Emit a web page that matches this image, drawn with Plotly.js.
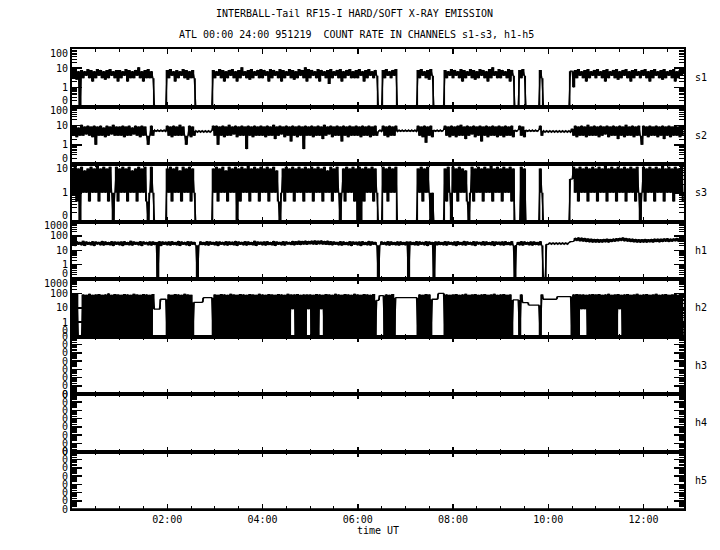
<!DOCTYPE html>
<html><head><meta charset="utf-8">
<script src="https://cdn.plot.ly/plotly-3.0.1.min.js"></script>
<style>html,body{margin:0;padding:0;background:#fff;}#chart{width:720px;height:550px;}</style>
</head><body><div id="chart"></div>
<script>
// ---- data (count rates, one sample every 2 minutes starting 00:00 UT) ----
const channels = ["s1","s2","s3","h1","h2","h3","h4","h5"];
const sampleStepMinutes = 2;

const s1 = [
8,3,9,2.5,7,0,8,3,7,4, 9,3,8,2,7,3,9,4,8,3, 7,2.5,8,3,9,4,7,3,8,2,
8,3,7,4,9,2,8,3,7,3, 8,4,11,3,7,2,8,3,9,3, 7,3,0,0,0,0,0,0,0,0,
8,3,9,4,7,2,8,3,7,4, 9,3,8,2.5,7,3,8,3,0,0, 0,0,0,0,0,0,0,0,0,8,
3,7,4,9,3,8,2,7,3,8, 4,9,3,7,2,8,3,11,4,7, 3,8,2.5,9,3,7,4,8,3,9,
3,8,4,7,2,9,3,8,4,7, 3,9,2,8,3,7,4,9,3,8, 2.5,7,3,9,4,8,3,11,2,9,
3,8,4,7,3,9,2,8,4,7, 3,8,1.5,9,3,7,4,8,3,9, 2,7,3,8,4,9,3,7,3,8,
3,9,4,7,2,8,3,9,4,7, 3,8,4,0,0,0,8,3,9,4, 7,3,8,4,9,0,0,0,0,0,
0,0,0,0,0,0,0,0,8,3, 9,4,7,3,8,2.5,9,4,0,0, 0,0,0,0,0,8,3,7,4,9,
3,8,4,7,3,9,2,8,3,7, 4,9,3,8,2.5,7,3,9,4,8, 3,7,2,9,3,11,4,7,3,9,
3,8,4,7,3,9,2,8,4,0, 0,0,8,3,9,4,0,0,0,0, 0,0,0,0,0,8,3,0,0,0,
0,0,0,0,0,0,0,0,0,0, 0,0,0,0,7,7,1,8,3,9, 4,7,3,8,2,9,3,7,4,8,
3,9,4,7,3,8,2,9,3,7, 4,8,3,9,2.5,7,3,8,4,9, 3,7,2,8,3,9,4,7,3,8,
4,9,3,7,2,8,3,9,4,7, 3,8,2.5,9,3,7,4,8,3,9, 2,7,3,8,4,9
];

const s2 = [
9,3,10,2.5,8,3,11,3,9,3.5, 10,3,9,2.5,10,1,9,3,10,3, 8,2.5,10,3,9,3.5,11,3,9,3,
9,3,10,2.5,9,3,10,3,8,3.5, 10,3,9,2.5,10,3,9,3,1,3, 10,3,6,5,6,5,6,5,6,5,
10,3,9,2.5,10,3,9,3,11,3, 9,3,1,3,10,2.5,9,3,5.5,4.5, 5.5,4.5,5.5,4.5,5.5,4.5,5.5,4.5,5.5,10,
3,10,1,9,3,10,2.5,9,3,11, 3,9,3.5,10,2.5,9,3,10,3,9, 0.6,10,3,9,2.5,10,3,9,3,10,
3,9,2.5,10,3,9,3,11,2,9, 3,10,3.5,9,2.5,10,3,9,1.5,10, 3,9,2.5,10,3,9,0.6,10,3,9,
3,10,2.5,9,3,10,3,9,2,11, 3,9,3.5,10,2.5,9,3,10,3,9, 1.5,10,3,9,2.5,10,3,9,3,10,
3,9,2.5,10,3,9,3,10,2.5,9, 3,10,3,5,6,5,10,3,9,2.5, 10,3,9,3,10,5,6,5,6,5,
6,5,6,5,6,5,6,5,10,3, 9,2.5,10,1.3,9,3,10,2.5,6,5, 6,5,6,5,6,10,3,9,2.5,10,
3,9,2.5,10,3,11,3,9,2,10, 3,9,3.5,10,2.5,9,3,10,1.5,9, 3,10,2.5,9,3,10,3,9,2.5,10,
3,9,2.5,10,3,9,3,10,2.5,6, 5,6,10,3,9,2.5,6,5,6,5, 6,5,6,5,6,10,3,5.5,4.5,5.5,
4.5,5.5,4.5,5.5,4.5,5.5,4.5,5.5,4.5,5.5, 4.5,5.5,4.5,5.5,4.5,7,3,10,2.5,9, 3,10,3,9,2.5,11,3,9,3,10,
3,9,2.5,10,3,9,3.5,10,2.5,9, 3,10,3,9,2,10,3,9,2.5,11, 3,9,3,10,2.5,9,3,10,3,1,
10,3,9,2.5,10,3,9,3,10,2.5, 9,3,10,2,9,3,10,2.5,9,3, 10,3,9,2.5,10,3
];

const s3 = [
7,1,8,0.5,7,0,8,1,6,1, 7,0.5,8,1,7,1,9,0.5,7,1, 8,1,7,0.5,8,1,0,1,8,0.5,
7,1,8,1,7,0.5,8,1,6,1, 7,0.5,8,1,7,1,8,0.5,0,1, 8,1,0,0,0,0,0,0,0,0,
7,1,8,0.5,7,1,8,1,6,0.5, 8,1,7,1,8,0.5,7,1,0,0, 0,0,0,0,0,0,0,0,0,7,
1,8,0.5,7,1,8,1,6,0.5,8, 1,7,1,8,0,7,0.5,8,1,7, 1,9,0.5,7,1,8,1,7,0.5,8,
1,7,1,8,0.5,7,1,8,1,6, 0.5,0,1,7,0.5,8,1,7,1,8, 0.5,7,1,8,1,7,0.5,8,1,7,
1,8,0.5,7,1,8,1,7,0.5,8, 1,6,1,8,0.5,7,1,8,1,0, 1,7,0.5,8,1,7,1,8,0.5,7,
0,8,0,7,0.5,8,1,7,1,8, 0.5,7,1,0,0,0,8,1,7,0.5, 8,1,7,1,8,0,0,0,0,0,
0,0,0,0,0,0,0,0,7,1, 8,0.5,7,1,8,1,0,1,0,0, 0,0,0,0,0,7,0.5,8,1,0,
8,1,7,0.5,8,1,7,1,6,0.5, 0,1,8,0.5,7,1,8,1,7,0.5, 8,1,7,1,9,0.5,7,1,8,1,
7,0.5,8,1,7,1,8,0.5,7,0, 0,0,0,8,0,7,0,0,0,0, 0,0,0,0,0,7,1,0,0,0,
0,0,0,0,0,0,0,0,0,0, 0,0,0,0,3,3,8,1,7,0.5, 8,1,7,1,8,0.5,7,1,8,1,
7,0.5,8,1,7,1,9,0.5,7,1, 8,1,7,0.5,8,1,7,1,8,0.5, 7,1,8,1,7,0.5,8,1,0,1,
8,0.5,7,1,8,1,7,0.5,8,1, 7,1,9,0.5,7,1,8,1,7,0.5, 8,1,7,1,8,0.5
];

const h1 = [
22,40,20,42,24,38,22,45,20,40, 24,38,22,42,20,40,25,38,22,44, 21,40,23,38,22,42,20,40,24,39,
22,40,20,42,23,38,22,45,21,40, 24,38,22,42,20,40,25,38,22,41, 21,40,23,38,0,42,20,40,24,39,
22,40,21,42,23,38,22,44,20,40, 24,38,22,42,20,40,24,38,22,0, 22,40,23,38,22,42,21,40,24,38,
22,41,20,40,24,38,22,42,21,40, 23,39,22,44,20,40,24,38,22,42, 21,40,23,38,22,45,20,40,24,39,
22,40,21,42,23,38,22,44,20,40, 24,38,22,42,21,40,25,38,23,44, 22,42,24,45,23,44,25,46,24,44,
26,46,25,48,24,45,26,47,25,44, 24,45,23,42,22,40,24,38,22,42, 21,40,23,38,22,42,20,40,24,39,
22,40,20,42,23,38,22,44,21,40, 24,38,22,0,22,40,24,38,22,42, 21,40,23,38,22,41,21,40,23,38,
22,40,0,40,23,38,22,42,21,40, 24,38,22,42,20,40,24,38,0,40, 22,40,23,38,22,42,21,40,24,38,
22,40,20,42,23,38,22,44,21,40, 24,38,22,42,20,40,25,38,22,42, 21,40,23,38,22,42,20,40,24,39,
22,40,21,42,23,38,22,42,21,0, 23,38,22,42,21,40,24,38,22,41, 21,40,23,38,22,42,21,0,0,26,
26,33,26,33,26,33,26,33,26,33, 26,33,26,33,40,40,42,72,45,78, 42,74,40,70,38,66,36,62,35,60,
35,60,34,58,35,60,36,62,35,60, 38,64,40,68,42,72,45,78,42,70, 40,66,38,62,36,60,35,58,34,58,
35,60,34,58,36,60,35,62,37,64, 36,62,38,65,40,68,38,64,40,66, 42,70,40,68,42,70
];

const h2 = [
0,80,0,90,0,0,0,85,0,80, 0,95,0,80,0,85,0,90,0,80, 0,85,0,100,0,80,0,90,0,85,
0,80,0,90,0,85,0,80,0,95, 0,85,0,80,0,90,0,85,0,80, 0,90,8,8,8,8,39,39,39,39,
0,85,0,80,0,90,0,85,0,80, 0,95,0,85,0,80,0,24,24,24, 24,24,24,50,50,50,50,50,50,0,
85,0,80,0,90,0,85,0,80,0, 95,0,85,0,80,0,90,0,85,0, 80,0,90,0,85,0,80,0,95,0,
85,0,80,0,90,0,85,0,80,0, 90,0,85,0,80,0,95,0,85,8, 85,0,90,0,80,0,85,0,85,8,
85,0,80,0,90,0,85,8,80,0, 90,0,85,0,80,0,95,0,85,0, 80,0,90,0,85,0,80,0,95,0,
85,0,80,0,90,0,85,0,80,0, 90,0,33,33,70,70,70,0,85,0, 80,0,90,0,50,50,50,50,50,50,
50,50,50,50,50,50,50,50,0,85, 0,80,0,90,0,85,0,39,39,39, 39,100,100,100,100,0,85,0,80,0,
85,0,90,0,80,0,85,0,95,0, 80,0,85,0,90,0,80,0,85,0, 90,0,80,0,85,0,95,0,80,0,
85,0,90,0,80,0,85,0,35,35, 35,35,0,85,23,23,23,23,15,15, 15,15,15,15,15,0,85,39,39,39,
39,39,39,39,39,39,60,60,60,60, 60,60,60,60,60,0,85,0,90,0, 85,8,85,8,80,0,85,0,90,0,
85,0,90,0,80,0,85,0,95,0, 80,0,85,0,90,8,80,0,85,0, 90,0,80,0,85,0,95,0,80,0,
85,0,90,0,80,0,85,0,95,0, 80,0,85,0,90,0,80,0,85,0, 90,0,80,0,85,0
];

// channels h3-h5 stay at zero all day
const emptyTimes = [0, 12.85];
const h3 = [0, 0];
const h4 = [0, 0];
const h5 = [0, 0];

// tick labels
const xTickVals = [2, 4, 6, 8, 10, 12];
const xTickText = ["02:00", "04:00", "06:00", "08:00", "10:00", "12:00"];
const yLabels10 = ["0", "1", "10"];
const yLabels100 = ["0", "1", "10", "100"];
const yLabels1000 = ["0", "1", "10", "100", "1000"];
const yLabelsZero = ["0", "0", "0", "0", "0", "0", "0", "0"];

const titleLine1 = "INTERBALL-Tail RF15-I HARD/SOFT X-RAY EMISSION";
const titleLine2 = "ATL 00:00 24:00 951219  COUNT RATE IN CHANNELS s1-s3, h1-h5";
const xTitle = "time UT";

// ---- drawing ----
const sampleTimes = s1.map((_, i) => i * sampleStepMinutes / 60);
const seriesValues = [s1, s2, s3, h1, h2, h3, h4, h5];
const seriesTimes = [sampleTimes, sampleTimes, sampleTimes, sampleTimes, sampleTimes, emptyTimes, emptyTimes, emptyTimes];
const panelRanges = [[-1, 2], [-1, 2], [-1, 1], [-1, 3], [-1, 3], [-7, 0], [-7, 0], [-7, 0]];
const panelLabels = [yLabels100, yLabels100, yLabels10, yLabels1000, yLabels1000, yLabelsZero, yLabelsZero, yLabelsZero];

const FONT = "'DejaVu Sans Mono', 'Liberation Mono', monospace";
const n = channels.length;
const traces = [];
const layout = {
  width: 720, height: 550,
  margin: {l: 72, r: 36, t: 49, b: 41, pad: 0},
  showlegend: false,
  paper_bgcolor: "#ffffff", plot_bgcolor: "#ffffff",
  font: {family: FONT, size: 10, color: "#000"},
  annotations: []
};

// area swept by the trace line between consecutive samples (so dense noise reads as a solid band)
function sweptArea(ts, ys) {
  const up = [], lo = [];
  for (let i = 1; i < ys.length; i++) {
    const a = ys[i - 1], b = ys[i];
    up.push([ts[i - 1], Math.max(a, b)], [ts[i], Math.max(a, b)]);
    lo.push([ts[i - 1], Math.min(a, b)], [ts[i], Math.min(a, b)]);
  }
  const pts = up.concat(lo.reverse());
  return {x: pts.map(p => p[0]), y: pts.map(p => p[1])};
}

for (let k = 0; k < n; k++) {
  const sfx = k === 0 ? "" : String(k + 1);
  const [r0, r1] = panelRanges[k];
  const floor = Math.pow(10, r0);
  const decades = [];
  for (let e = r0; e <= r1; e++) decades.push(Math.pow(10, e));
  const minorVals = [];
  for (let e = r0; e < r1; e++) for (let m = 2; m <= 9; m++) minorVals.push(m * Math.pow(10, e));

  const ys = seriesValues[k].map(v => (v > 0 ? v : floor));
  const area = sweptArea(seriesTimes[k], ys);
  traces.push({
    type: "scatter", mode: "lines", x: area.x, y: area.y,
    xaxis: "x" + sfx, yaxis: "y" + sfx,
    fill: "toself", fillcolor: "#000", line: {width: 0, simplify: false},
    hoverinfo: "skip"
  });
  traces.push({
    type: "scatter", mode: "lines",
    x: seriesTimes[k], y: ys,
    xaxis: "x" + sfx, yaxis: "y" + sfx,
    line: {color: "#000", width: 1.3, simplify: false},
    hoverinfo: "skip"
  });

  layout["xaxis" + sfx] = {
    domain: [0, 1], anchor: "y" + sfx, range: [0, 12.85],
    showgrid: false, zeroline: false,
    showline: true, linecolor: "#000", linewidth: 2, mirror: "ticks",
    ticks: "inside", ticklen: 5, tickwidth: 1.5, tickcolor: "#000",
    tickmode: "array", tickvals: xTickVals, ticktext: xTickText,
    minor: {ticks: "inside", ticklen: 3, tickwidth: 1, tickcolor: "#000", dtick: 0.5, tick0: 0, showgrid: false},
    showticklabels: k === n - 1,
    tickfont: {family: FONT, size: 10, color: "#000"},
    fixedrange: true
  };
  if (k === n - 1) {
    layout["xaxis" + sfx].title = {text: xTitle, standoff: 2, font: {family: FONT, size: 10, color: "#000"}};
  }
  layout["yaxis" + sfx] = {
    domain: [(n - 1 - k) / n, (n - k) / n], anchor: "x" + sfx,
    type: "log", range: [r0, r1],
    showgrid: false, zeroline: false,
    showline: true, linecolor: "#000", linewidth: 2, mirror: "ticks",
    ticks: "inside", ticklen: 10, tickwidth: 1.5, tickcolor: "#000",
    tickmode: "array", tickvals: decades, ticktext: panelLabels[k],
    minor: {ticks: "inside", ticklen: 5, tickwidth: 1, tickcolor: "#000", tickmode: "array", tickvals: minorVals, showgrid: false},
    tickfont: {family: FONT, size: 10, color: "#000"},
    fixedrange: true
  };
  layout.annotations.push({
    text: channels[k], xref: "paper", yref: "paper",
    x: 1, xanchor: "left", xshift: 9,
    y: (n - k - 0.5) / n, yanchor: "middle",
    showarrow: false, font: {family: FONT, size: 10, color: "#000"}
  });
}
layout.annotations.push({
  text: titleLine1, xref: "paper", yref: "paper", x: (354 - 72) / 612, y: 1 + (49 - 14) / 460,
  xanchor: "center", yanchor: "middle", showarrow: false, font: {family: FONT, size: 10, color: "#000"}
});
layout.annotations.push({
  text: titleLine2, xref: "paper", yref: "paper", x: (356 - 72) / 612, y: 1 + (49 - 35) / 460,
  xanchor: "center", yanchor: "middle", showarrow: false, font: {family: FONT, size: 10, color: "#000"}
});

Plotly.newPlot("chart", traces, layout, {displayModeBar: false, staticPlot: true}).then(gd => {
  // keep the end labels of each decade axis inside their own panel, as in the original plot
  for (let k = 0; k < 5; k++) {
    const id = "y" + (k === 0 ? "" : String(k + 1));
    const labels = Array.from(gd.querySelectorAll("g." + id + "tick text"));
    if (!labels.length) continue;
    const posY = el => {
      const m = /translate\(\s*[-\d.]+\s*,\s*([-\d.]+)/.exec(el.getAttribute("transform") || "");
      return m ? parseFloat(m[1]) : 0;
    };
    labels.sort((a, b) => posY(a) - posY(b));
    const top = labels[0], bottom = labels[labels.length - 1];
    top.setAttribute("y", parseFloat(top.getAttribute("y") || 0) + 4);
    bottom.setAttribute("y", parseFloat(bottom.getAttribute("y") || 0) - 6);
  }
});
</script>
</body></html>
